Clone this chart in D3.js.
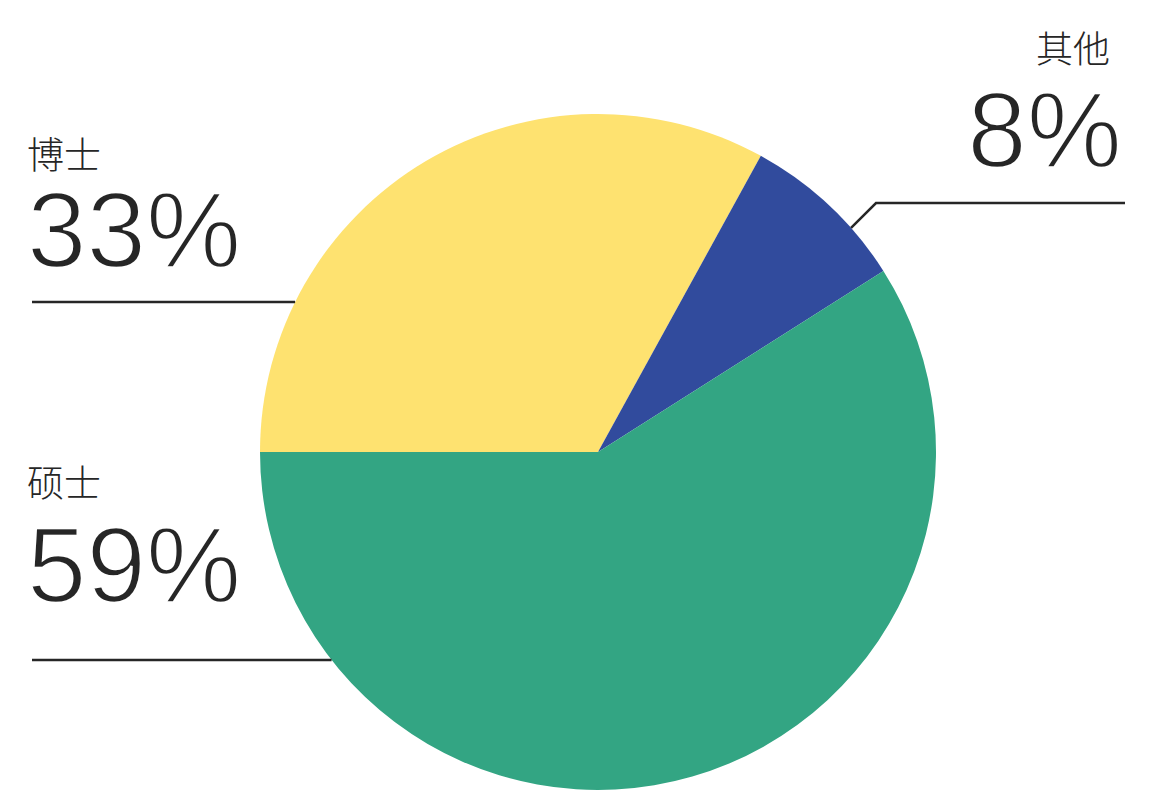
<!DOCTYPE html>
<html><head><meta charset="utf-8">
<script src="https://cdn.jsdelivr.net/npm/d3@7"></script>
<style>html,body{margin:0;padding:0;background:#fff;}</style>
</head><body>
<svg id="c" width="1150" height="791"></svg>
<script>
const categories = ["博士", "其他", "硕士"];
const values = [33, 8, 59];
const colors = ["#FEE270", "#314B9D", "#33A583"];

const svg = d3.select("#c");
const cx = 598, cy = 452, R = 338;
const g = svg.append("g").attr("transform", `translate(${cx},${cy})`);
const pie = d3.pie().sort(null).startAngle(-Math.PI/2).endAngle(Math.PI*1.5);
const arcs = pie(values);
const arc = d3.arc().innerRadius(0).outerRadius(R);
g.selectAll("path").data(arcs).enter().append("path")
  .attr("d", arc).attr("fill", (d,i)=>colors[i]);

const txt = "#262626";
const numFont = "'Liberation Sans', Arial, sans-serif";
const cjkFont = "'Noto Sans CJK SC', sans-serif";

function numText(sel) {
  return sel.attr("font-family", numFont).attr("font-size", 107).attr("fill", txt)
    .attr("stroke", "#fff").attr("stroke-width", 2.4).attr("paint-order", "fill");
}

const layout = [
  {lineY: 302, side: "left", nameY: 169, numY: 267},
  {lineY: 203, side: "right", nameY: 63, numY: 167},
  {lineY: 660, side: "left", nameY: 497, numY: 602}
];
arcs.forEach((a, i) => {
  const L = layout[i];
  const dy = L.lineY - cy;
  if (L.side === "left") {
    const xEdge = cx - Math.sqrt(R*R - dy*dy);
    svg.append("line").attr("x1", 32).attr("x2", xEdge).attr("y1", L.lineY).attr("y2", L.lineY)
      .attr("stroke", txt).attr("stroke-width", 2.5);
    svg.append("text").attr("x", 27).attr("y", L.nameY).attr("font-family", cjkFont)
      .attr("font-weight", 300).attr("font-size", 37).attr("fill", txt).text(categories[i]);
    numText(svg.append("text").attr("x", 27).attr("y", L.numY)).text(values[i] + "%");
  } else {
    const ex = 876, ey = L.lineY;
    const ux = ex - cx, uy = ey - cy;
    const A = 2, B = -2*ux + 2*uy, C = ux*ux + uy*uy - R*R;
    const r1 = (-B - Math.sqrt(B*B - 4*A*C)) / (2*A);
    const r2 = (-B + Math.sqrt(B*B - 4*A*C)) / (2*A);
    const tt = Math.abs(r1) < Math.abs(r2) ? r1 : r2;
    svg.append("polyline").attr("points", `${ex-tt},${ey+tt} ${ex},${ey} 1125,${ey}`)
      .attr("fill", "none").attr("stroke", txt).attr("stroke-width", 2.5);
    svg.append("text").attr("x", 1110).attr("y", L.nameY).attr("text-anchor", "end")
      .attr("font-family", cjkFont).attr("font-weight", 300).attr("font-size", 37).attr("fill", txt).text(categories[i]);
    numText(svg.append("text").attr("x", 1122).attr("y", L.numY).attr("text-anchor", "end")).text(values[i] + "%");
  }
});
</script>
</body></html>
